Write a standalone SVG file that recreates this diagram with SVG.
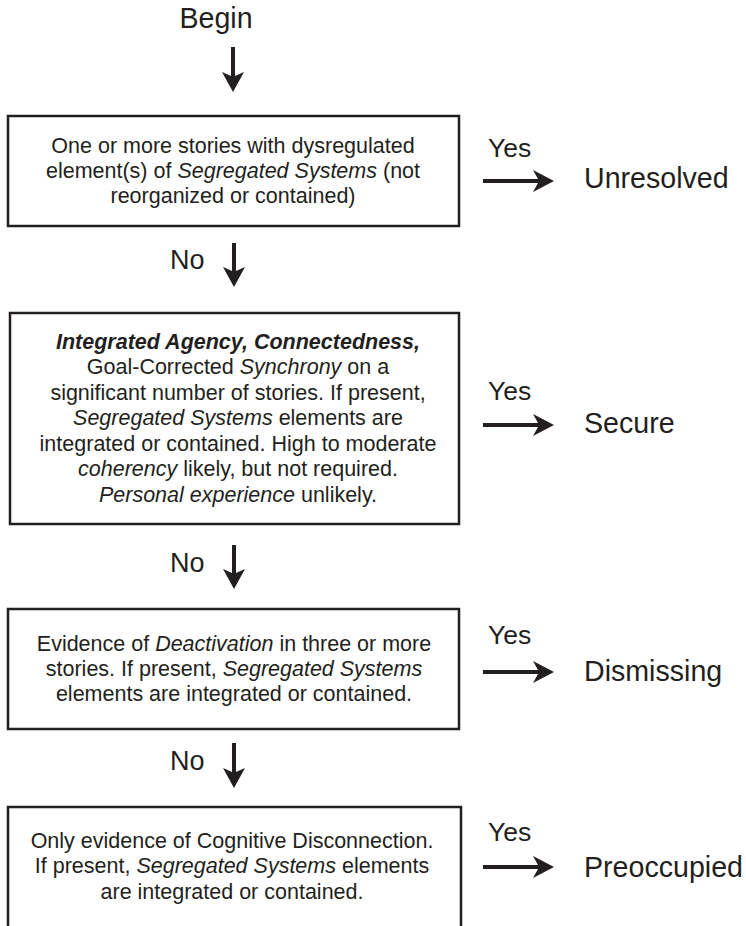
<svg xmlns="http://www.w3.org/2000/svg" width="746" height="926" viewBox="0 0 746 926">
<style>
text{font-family:"Liberation Sans",Arial,sans-serif;fill:#231f20}
.b{font-size:21.5px;text-anchor:middle}
.i{font-style:italic}
.bi{font-style:italic;font-weight:bold}
.no{font-size:27px}
.yes{font-size:26.5px}
.res{font-size:28.6px}
.box{fill:#fff;stroke:#231f20;stroke-width:2.5}
.arr{fill:#231f20;stroke:none}
</style>
<rect width="746" height="926" fill="#fff"/>
<g id="begin"><text x="216" y="28" class="res" text-anchor="middle">Begin</text></g>
<g id="q1">
<rect class="box" x="8" y="116" width="451" height="110"/>
<text class="b" x="233" y="153">One or more stories with dysregulated</text>
<text class="b" x="233" y="178">element(s) of <tspan class="i">Segregated Systems</tspan> (not</text>
<text class="b" x="233" y="203">reorganized or contained)</text>
</g>
<g id="q2">
<rect class="box" x="10" y="313" width="449" height="211"/>
<text class="b" x="238" y="349"><tspan class="bi">Integrated Agency, Connectedness,</tspan></text>
<text class="b" x="238" y="374">Goal-Corrected <tspan class="i">Synchrony</tspan> on a</text>
<text class="b" x="238" y="400">significant number of stories. If present,</text>
<text class="b" x="238" y="425"><tspan class="i">Segregated Systems</tspan> elements are</text>
<text class="b" x="238" y="451">integrated or contained. High to moderate</text>
<text class="b" x="238" y="476"><tspan class="i">coherency</tspan> likely, but not required.</text>
<text class="b" x="238" y="502"><tspan class="i">Personal experience</tspan> unlikely.</text>
</g>
<g id="q3">
<rect class="box" x="8" y="609" width="451" height="120"/>
<text class="b" x="234" y="651">Evidence of <tspan class="i">Deactivation</tspan> in three or more</text>
<text class="b" x="234" y="676">stories. If present, <tspan class="i">Segregated Systems</tspan></text>
<text class="b" x="234" y="701">elements are integrated or contained.</text>
</g>
<g id="q4">
<rect class="box" x="8" y="807" width="453" height="140"/>
<text class="b" x="232" y="848">Only evidence of Cognitive Disconnection.</text>
<text class="b" x="232" y="873">If present, <tspan class="i">Segregated Systems</tspan> elements</text>
<text class="b" x="232" y="899">are integrated or contained.</text>
</g>
<g id="r1"><text class="res" x="584" y="188">Unresolved</text></g>
<g id="r2"><text class="res" x="584" y="433">Secure</text></g>
<g id="r3"><text class="res" x="584" y="681">Dismissing</text></g>
<g id="r4"><text class="res" x="584" y="877">Preoccupied</text></g>
<g id="connectors">
<path class="arr" d="M231,47 H235 V76 L244,72 L233,92 L222,72 L231,76 Z"/>
<path class="arr" d="M232,243 H236 V271 L245,267 L234,287 L223,267 L232,271 Z"/>
<path class="arr" d="M232,545 H236 V573 L245,569 L234,589 L223,569 L232,573 Z"/>
<path class="arr" d="M232,743 H236 V772 L245,768 L234,788 L223,768 L232,772 Z"/>
<path class="arr" d="M483,179 H538 L533,170 L554,181 L533,192 L538,183 H483 Z"/>
<path class="arr" d="M483,423 H538 L533,414 L554,425 L533,436 L538,427 H483 Z"/>
<path class="arr" d="M483,670 H538 L533,661 L554,672 L533,683 L538,674 H483 Z"/>
<path class="arr" d="M483,865 H538 L533,856 L554,867 L533,878 L538,869 H483 Z"/>
<text class="no" x="170" y="269">No</text>
<text class="no" x="170" y="572">No</text>
<text class="no" x="170" y="770">No</text>
<text class="yes" x="488" y="157">Yes</text>
<text class="yes" x="488" y="400">Yes</text>
<text class="yes" x="488" y="644">Yes</text>
<text class="yes" x="488" y="841">Yes</text>
</g>
</svg>
